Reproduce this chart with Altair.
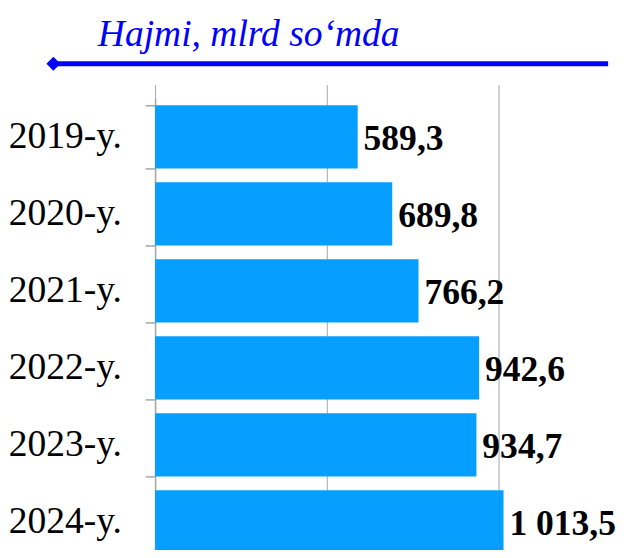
import altair as alt
import pandas as pd

years = ["2019-y.", "2020-y.", "2021-y.", "2022-y.", "2023-y.", "2024-y."]
values = [589.3, 689.8, 766.2, 942.6, 934.7, 1013.5]
title_text = "Hajmi, mlrd so\u2018mda"


def fmt(v):
    s = f"{v:,.1f}"
    return s.replace(",", " ").replace(".", ",")


df = pd.DataFrame({"year": years, "value": values, "label": [fmt(v) for v in values]})
one = pd.DataFrame({"a": [0]})

BLUE = "#0000FF"
BAR = "#069FFF"
GRID = "#A6A6A6"

y_enc = alt.Y(
    "year:N",
    sort=years,
    title=None,
    scale=alt.Scale(range=[0, 468], paddingInner=0.18, paddingOuter=0.09),
    axis=alt.Axis(
        labelFont="Liberation Serif",
        labelFontSize=38,
        labelColor="black",
        labelPadding=24,
        tickSize=10,
        tickColor=GRID,
        domainColor=GRID,
        domainWidth=1.5,
        tickWidth=1.5,
        tickBand="extent",
        grid=False,
        labelAlign="right",
    ),
)
x_enc = alt.X(
    "value:Q",
    title=None,
    scale=alt.Scale(domain=[0, 1200], nice=False),
    axis=alt.Axis(values=[0, 500, 1000], labels=False, ticks=False, domain=False,
                  grid=True, gridColor=GRID, gridWidth=1),
)

bars = alt.Chart(df).mark_bar(color=BAR, clip=False).encode(x=x_enc, y=y_enc)
labels = alt.Chart(df).mark_text(
    align="left", baseline="middle", dx=6, dy=2,
    font="Liberation Serif", fontSize=36, fontWeight="bold", color="black",
).encode(x="value:Q", y=alt.Y("year:N", sort=years), text="label:N")

title = alt.Chart(one).mark_text(
    text=title_text, align="left", baseline="alphabetic",
    font="Liberation Serif", fontStyle="italic", fontSize=38, color=BLUE,
).encode(x=alt.value(-58), y=alt.value(-53))

rule = alt.Chart(one).mark_rule(color=BLUE, strokeWidth=5).encode(
    x=alt.value(-103), x2=alt.value(459), y=alt.value(-35)
)
diamond = alt.Chart(one).mark_point(shape="diamond", filled=True, color=BLUE, size=200, opacity=1).encode(
    x=alt.value(-103), y=alt.value(-35)
)

chart = (
    alt.layer(bars, labels, title, rule, diamond)
    .properties(
        width=418,
        height=454,
        autosize=alt.AutoSizeParams(type="none"),
        padding={"left": 149, "top": 88, "right": 51, "bottom": 0},
    )
    .configure_view(stroke=None)
)

chart.save("out.html", embed_options={"renderer": "svg", "actions": False})
